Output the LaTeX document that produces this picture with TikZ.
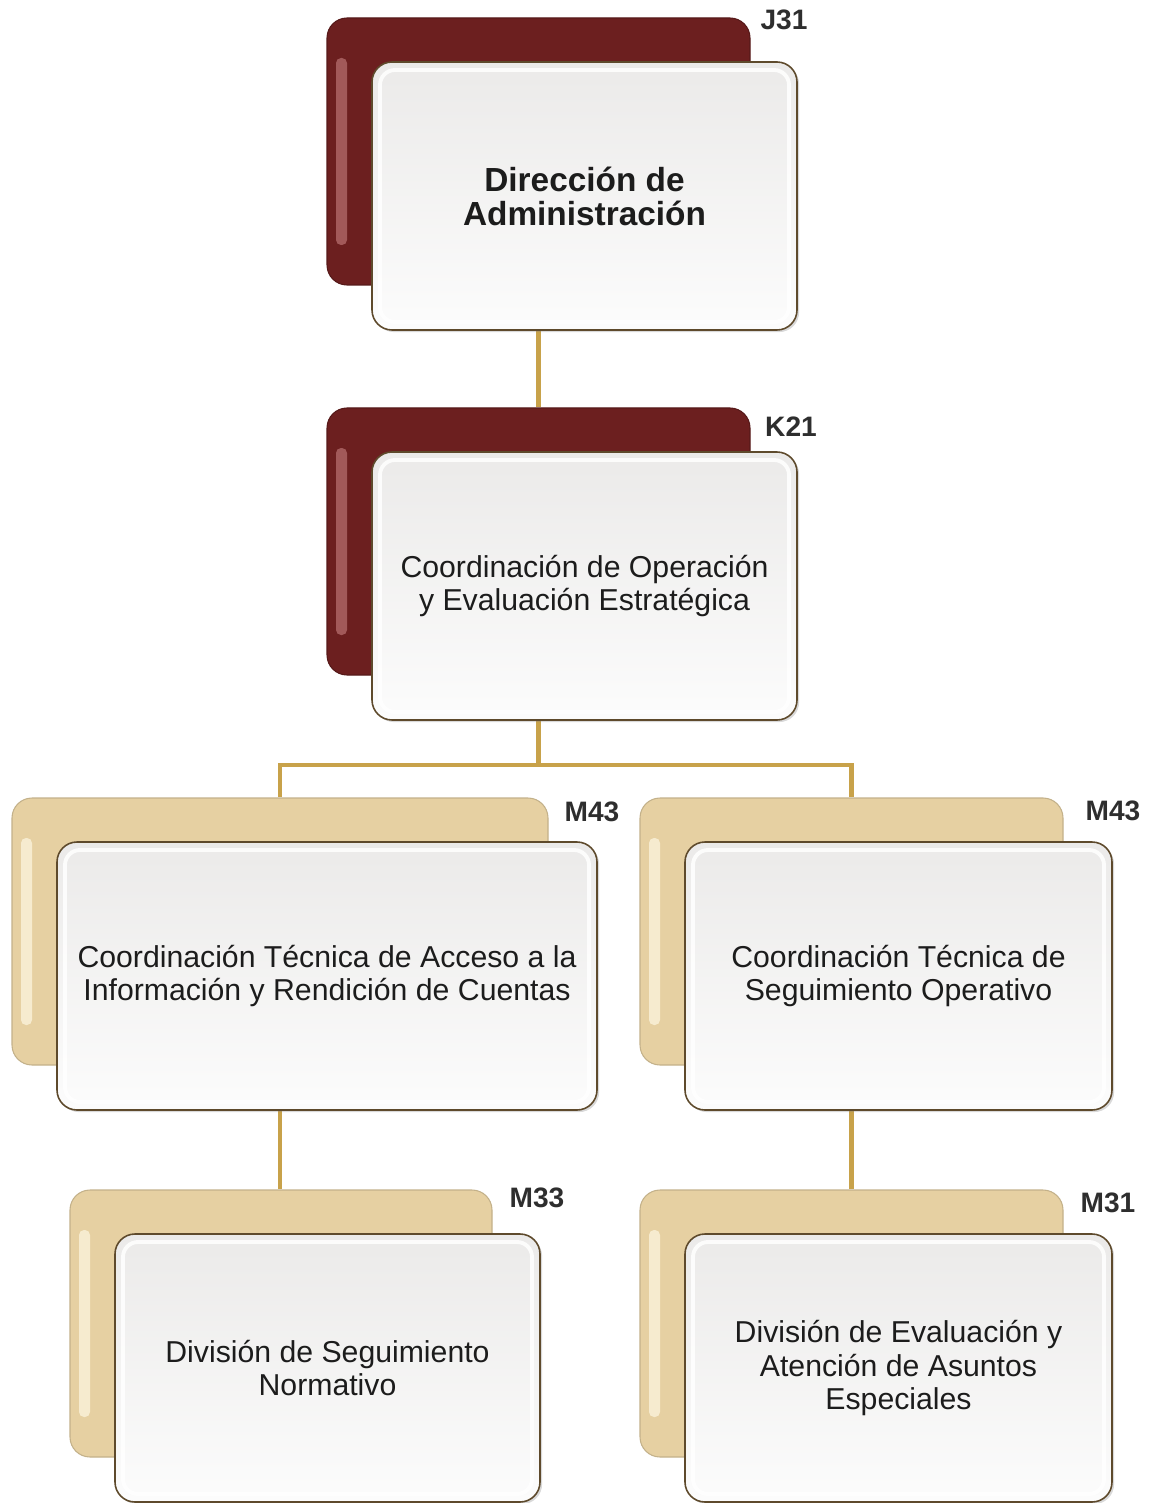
\documentclass[tikz,border=0pt]{standalone}
\usepackage{fontspec}
\setmainfont{Liberation Sans}
\usetikzlibrary{fit,shadows}
\pgfdeclarelayer{background}
\pgfsetlayers{background,main}
\definecolor{boxred}{HTML}{6C1F1F}
\definecolor{boxredhl}{HTML}{B06868}
\definecolor{boxbeige}{HTML}{E6D0A2}
\definecolor{boxbeigehl}{HTML}{F8EED4}
\definecolor{linkgold}{HTML}{C8A24A}
\definecolor{framebrown}{HTML}{5E4A2C}
\definecolor{facetop}{HTML}{EBEAE9}
\definecolor{facebot}{HTML}{FCFCFC}
\definecolor{inkdark}{HTML}{1C1C1C}
\definecolor{lblgray}{HTML}{2E2E2E}
\tikzset{
  backbox/.style={rectangle, rounded corners=0.4cm, inner sep=0pt, line width=0.6pt},
  redback/.style={backbox, fill=boxred, draw=boxred!80!black,
    path picture={\fill[boxredhl, rounded corners=0.1cm, opacity=0.8]
      ([shift={(9,40)}]path picture bounding box.north west) rectangle
      ([shift={(20,-40)}]path picture bounding box.south west);}},
  beigeback/.style={backbox, fill=boxbeige, draw=boxbeige!85!black,
    path picture={\fill[boxbeigehl, rounded corners=0.1cm, opacity=0.9]
      ([shift={(9,40)}]path picture bounding box.north west) rectangle
      ([shift={(20,-40)}]path picture bounding box.south west);}},
  frontbox/.style={rectangle, rounded corners=0.4cm, inner sep=0pt, draw=framebrown,
    line width=0.9pt, top color=facetop, bottom color=facebot,
    drop shadow={opacity=0.3, shadow xshift=1.2pt, shadow yshift=-1.2pt},
    path picture={\draw[white, line width=2.2pt, rounded corners=0.3cm, opacity=0.85]
      ([shift={(8,8)}]path picture bounding box.north west) rectangle
      ([shift={(-8,-8)}]path picture bounding box.south east);}},
  unittext/.style={text=inkdark, align=center, inner sep=0pt},
  titletext/.style={unittext, font=\bfseries\fontsize{19}{19.4}\selectfont},
  bodytext/.style={unittext, font=\fontsize{17.2}{18.8}\selectfont},
  codelabel/.style={font=\bfseries\fontsize{16}{16}\selectfont, text=lblgray, inner sep=0pt},
  link/.style={draw=linkgold, line width=2.3pt}
}
% #1 name, #2 back x1, #3 back y1, #4 back x2, #5 front x2, #6 back style, #7 text style, #8 text
\newcommand\orgunit[8]{%
  \node[#6, fit={(#2,#3) (#4,#3+267)}] (#1b) {};
  \node[frontbox, fit={(#2+45,#3+44) (#5,#3+312)}] (#1) {};
  \node[#7] (#1t) at (#1.center) {#8};
}
\begin{document}
\begin{tikzpicture}[x=0.02cm, y=-0.02cm]
\useasboundingbox (0,0) rectangle (1151,1503);

\orgunit{jtr}{327}{18}{750}{797}{redback}{titletext}{Dirección de\\Administración}
\orgunit{ktw}{327}{408}{750}{797}{redback}{bodytext}{Coordinación de Operación\\y Evaluación Estratégica}
\orgunit{mfa}{12}{798}{548}{597}{beigeback}{bodytext}{Coordinación Técnica de Acceso a la\\Información y Rendición de Cuentas}
\orgunit{mfb}{640}{798}{1063}{1112}{beigeback}{bodytext}{Coordinación Técnica de\\Seguimiento Operativo}
\orgunit{mtt}{70}{1190}{492}{540}{beigeback}{bodytext}{División de Seguimiento\\Normativo}
\orgunit{mto}{640}{1190}{1063}{1112}{beigeback}{bodytext}{División de Evaluación y\\Atención de Asuntos\\Especiales}

\node[codelabel] (ljtr) at (784,20) {J31};
\node[codelabel] (lktw) at (791,427) {K21};
\node[codelabel] (lmfa) at (592,812) {M43};
\node[codelabel] (lmfb) at (1113,811) {M43};
\node[codelabel] (lmtt) at (537,1198) {M33};
\node[codelabel] (lmto) at (1108,1203) {M31};

\begin{pgfonlayer}{background}
  \coordinate (bus) at (538.5,765);
  \draw[link] (jtrb.south) -- (ktwb.north);
  \draw[link] (ktwb.south) -- (bus);
  \draw[link] (mfab.north) |- (bus) -| (mfbb.north);
  \draw[link] (mfab.south) -- (mfab.south |- mttb.north);
  \draw[link] (mfbb.south) -- (mfbb.south |- mtob.north);
\end{pgfonlayer}
\end{tikzpicture}
\end{document}
